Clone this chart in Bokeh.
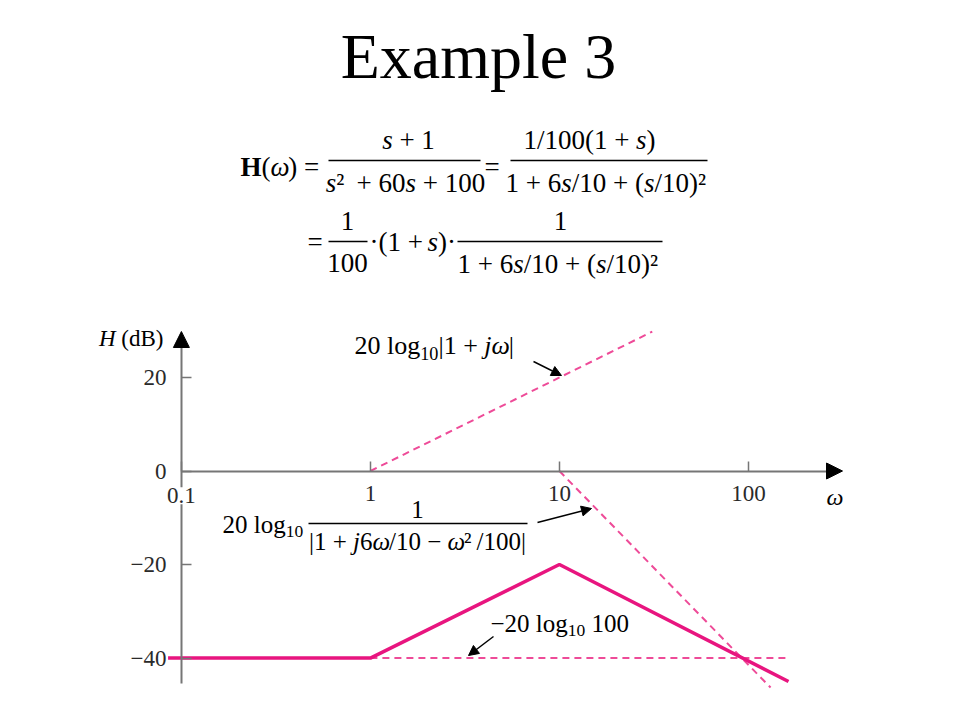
from bokeh.plotting import figure
from bokeh.models import Range1d, FixedTicker, Label, Arrow, NormalHead
from bokeh.embed import file_html
from bokeh.resources import INLINE

# ---------------- data ----------------
omega_total = [0.085, 1, 10, 163]
db_total = [-40, -40, -20, -45]
omega_zero = [1, 31]
db_zero = [0, 29.8]
omega_pole = [10, 131]
db_pole = [0, -46.3]
omega_const = [1, 157]
db_const = [-40, -40]
x_ticks = [0.1, 1, 10, 100]
x_tick_labels = ["0.1", "1", "10", "100"]
y_ticks = [20, 0, -20, -40]
y_tick_labels = ["20", "0", "\u221220", "\u221240"]

# ---------------- page <-> data helpers (layout only) ----------------
def px2x(px):
    return 10 ** ((px - 369.9) / 189.0)

def py2y(py):
    return (470.5 - py) / 4.677

FONT = "Liberation Serif"
PINK = "#e8157f"
PINK_D = "#ee4b98"
AXC = "#767676"

WN = {' ': 250, '(': 333, ')': 333, '+': 564, '=': 564, '/': 278, '|': 200,
      '\u2212': 564, '\u00b7': 250, '\u00b2': 160, 'l': 278, 'o': 500, 'g': 500,
      'd': 500, 'B': 667, 'E': 611, 'x': 500, 'a': 444, 'm': 778, 'p': 500,
      'e': 444, '\u03c9': 686}
WI = {'s': 389, 'j': 278, '\u03c9': 660, 'H': 722}
WB = {'H': 778}

def cw(c, st):
    if c.isdigit():
        return 500
    t = {'normal': WN, 'italic': WI, 'bold': WB}[st]
    return t.get(c, WN.get(c, 500))

def tw(t, st, size):
    return sum(cw(c, st) for c in t) * size / 1000.0

def rich(p, x, base, runs, size, align="left", color="black"):
    total = sum(tw(t, st, size * sc) for t, st, sc, dy in runs)
    if align == "center":
        x -= total / 2
    elif align == "right":
        x -= total
    for t, st, sc, dy in runs:
        s = size * sc
        lead = len(t) - len(t.lstrip(' '))
        txt = t.strip(' ')
        if txt:
            p.add_layout(Label(x=px2x(x + tw(' ' * lead, st, s)), y=py2y(base + dy - 0.34 * s),
                               text=txt, text_font=FONT, text_font_style=st,
                               text_font_size=f"{s:.1f}px", text_color=color,
                               text_align="left", text_baseline="middle"))
        x += tw(t, st, s)

def bar(p, x0, x1, y, w=1.4):
    p.segment(x0=[px2x(x0)], y0=[py2y(y)], x1=[px2x(x1)], y1=[py2y(y)],
              line_color="black", line_width=w)

def pointer(p, x0, y0, x1, y1):
    p.add_layout(Arrow(x_start=px2x(x0), y_start=py2y(y0), x_end=px2x(x1), y_end=py2y(y1),
                       line_color="black", line_width=1.5,
                       end=NormalHead(size=10, fill_color="black", line_color="black")))

# ---------------- figure ----------------
p = figure(width=944, height=704, x_axis_type="log",
           x_range=Range1d(px2x(0), px2x(944)), y_range=Range1d(py2y(704), py2y(0)),
           output_backend="svg", toolbar_location=None, min_border=0)
p.outline_line_color = None
p.grid.visible = False
p.background_fill_color = "white"
p.border_fill_color = "white"

xa = p.xaxis[0]
ya = p.yaxis[0]
xa.fixed_location = 0
ya.fixed_location = 0.1
xa.ticker = FixedTicker(ticks=x_ticks, minor_ticks=[])
ya.ticker = FixedTicker(ticks=y_ticks, minor_ticks=[])
# the first x label (0.1) sits on the y axis and is drawn separately with a white box
xa.major_label_overrides = {t: (lab if i > 0 else "") for i, (t, lab) in enumerate(zip(x_ticks, x_tick_labels))}
ya.major_label_overrides = dict(zip(y_ticks, y_tick_labels))
xa.bounds = (0.1, 262)
ya.bounds = (-45.4, 26.5)
for ax in (xa, ya):
    ax.axis_line_color = AXC
    ax.axis_line_width = 2
    ax.major_tick_line_color = AXC
    ax.major_tick_line_width = 1.5
    ax.major_tick_in = 10
    ax.major_tick_out = 0
    ax.minor_tick_line_color = None
    ax.major_label_text_font = FONT
    ax.major_label_text_font_size = "23px"
    ax.major_label_text_color = "#2a2a2a"
xa.major_label_standoff = 15
ya.major_label_standoff = 15

p.add_layout(Label(x=x_ticks[0], y=py2y(503 - 0.34 * 23), text=x_tick_labels[0], text_font=FONT,
                   text_font_size="23px", text_color="#2a2a2a", text_align="center",
                   text_baseline="middle", background_fill_color="white", padding=1))

# axis arrowheads
p.add_layout(Arrow(x_start=262, y_start=0, x_end=px2x(842), y_end=0, line_color=AXC, line_width=2,
                   end=NormalHead(size=16, fill_color="black", line_color="black")))
p.add_layout(Arrow(x_start=0.1, y_start=26.5, x_end=0.1, y_end=py2y(331), line_color=AXC, line_width=2,
                   end=NormalHead(size=16, fill_color="black", line_color="black")))

# ---------------- curves ----------------
p.line(omega_zero, db_zero, line_color=PINK_D, line_width=2, line_dash="7 5")
p.line(omega_pole, db_pole, line_color=PINK_D, line_width=2, line_dash="7 5")
p.line(omega_const, db_const, line_color=PINK_D, line_width=2, line_dash="7 5")
p.line(omega_total, db_total, line_color=PINK, line_width=3.5)

# ---------------- title ----------------
rich(p, 478, 78, [("Example 3", "normal", 1, 0)], 64, align="center")

# ---------------- equations ----------------
S = 27
N, I, B = "normal", "italic", "bold"
rich(p, 240, 176, [("H", B, 1, 0), ("(", N, 1, 0), ("\u03c9", I, 1, 0), (")", N, 1, 0), (" =", N, 1, 0)], S)
bar(p, 328, 480, 160)
rich(p, 408, 149, [("s", I, 1, 0), (" + 1", N, 1, 0)], S, align="center")
rich(p, 405, 192, [("s", I, 1, 0), ("\u00b2", N, 1, 0), (" + 60", N, 1, 0), ("s", I, 1, 0), (" + 100", N, 1, 0)], S, align="center")
rich(p, 484, 176, [("=", N, 1, 0)], S)
bar(p, 510, 707, 160)
rich(p, 589, 149, [("1/100(1 + ", N, 1, 0), ("s", I, 1, 0), (")", N, 1, 0)], S, align="center")
rich(p, 608, 192, [("1 + 6", N, 1, 0), ("s", I, 1, 0), ("/10 + (", N, 1, 0), ("s", I, 1, 0), ("/10)", N, 1, 0), ("\u00b2", N, 1, 0)], S, align="center")

rich(p, 307, 251, [("=", N, 1, 0)], S)
bar(p, 328, 367, 241)
rich(p, 347, 230, [("1", N, 1, 0)], S, align="center")
rich(p, 347, 272, [("100", N, 1, 0)], S, align="center")
rich(p, 369, 251, [("\u00b7(1 + ", N, 1, 0), ("s", I, 1, 0), (")\u00b7", N, 1, 0)], S)
bar(p, 457, 662, 241)
rich(p, 560, 230, [("1", N, 1, 0)], S, align="center")
rich(p, 560, 273, [("1 + 6", N, 1, 0), ("s", I, 1, 0), ("/10 + (", N, 1, 0), ("s", I, 1, 0), ("/10)", N, 1, 0), ("\u00b2", N, 1, 0)], S, align="center")

# ---------------- axis titles ----------------
rich(p, 163, 346, [("H", I, 1, 0), (" (dB)", N, 1, 0)], 23, align="right")
rich(p, 834, 505, [("\u03c9", I, 1, 0)], 24, align="center")

# ---------------- annotations ----------------
rich(p, 354, 354, [("20 log", N, 1, 0), ("10", N, 0.7, 5), ("|1 + ", N, 1, 0), ("j\u03c9", I, 1, 0), ("|", N, 1, 0)], 26)
pointer(p, 533, 361, 561, 375)

A = 25
rich(p, 222, 532, [("20 log", N, 1, 0), ("10", N, 0.7, 5)], A)
bar(p, 308, 527, 523, 1.3)
rich(p, 417, 517, [("1", N, 1, 0)], A, align="center")
rich(p, 417, 549, [("|1 + ", N, 1, 0), ("j", I, 1, 0), ("6", N, 1, 0), ("\u03c9", I, 1, 0), ("/10 \u2212 ", N, 1, 0), ("\u03c9", I, 1, 0), ("\u00b2", N, 1, 0), ("/100|", N, 1, 0)], A, align="center")
pointer(p, 537, 522, 591, 508)

rich(p, 490, 631, [("\u221220 log", N, 1, 0), ("10", N, 0.7, 5), (" 100", N, 1, 0)], A)
pointer(p, 493, 636, 468, 655)

open("out.html", "w").write(file_html(p, INLINE))
